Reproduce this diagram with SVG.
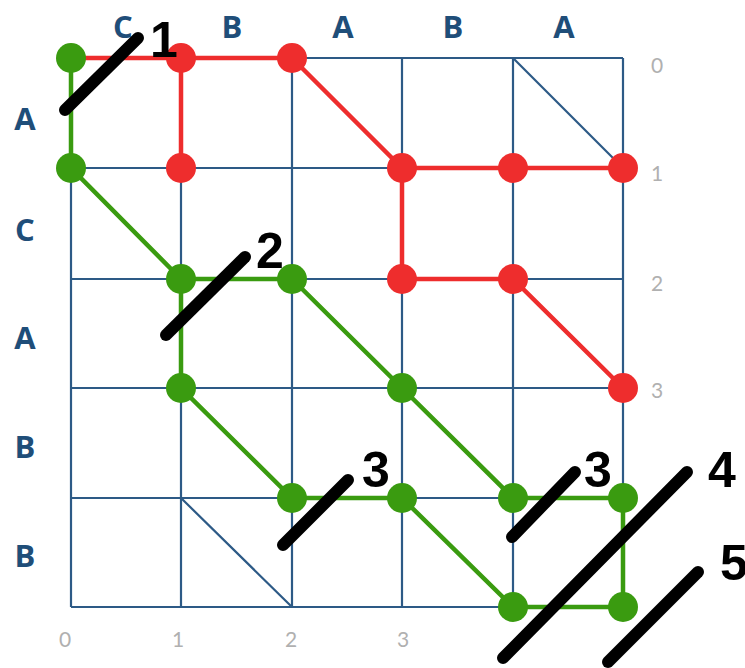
<svg xmlns="http://www.w3.org/2000/svg" width="745" height="668" viewBox="0 0 745 668">
<style>
.grid{stroke:#2d5a86;stroke-width:2.2;fill:none}
.red{stroke:#ee2d2d;stroke-width:4.5;fill:none}
.green{stroke:#3a9b10;stroke-width:4.5;fill:none}
.rn{fill:#ee2d2d}
.gn{fill:#3a9b10}
.seq{font-family:"Open Sans","Liberation Sans",sans-serif;font-weight:700;font-size:31px;fill:#1f4e79;text-anchor:middle}
.idx{font-family:"Lato","Liberation Sans",sans-serif;font-size:21px;fill:#b0b0b0;text-anchor:middle}
.mark{stroke:#000;stroke-width:12;stroke-linecap:round;fill:none}
.num{font-family:"Liberation Sans",sans-serif;font-weight:700;font-size:50px;fill:#000}
</style>
<rect width="745" height="668" fill="#fff"/>
<g id="grid">
<path class="grid" d="M71 58H623M71 168H623M71 279H623M71 388H623M71 498H623M71 607H623M71 58V607M181 58V607M292 58V607M402 58V607M513 58V607M623 58V607"/>
<path class="grid" d="M513 58L623 168M181 498L292 607"/>
</g>
<g id="labels">
<text class="seq" x="123" y="38">C</text>
<text class="seq" x="232" y="38">B</text>
<text class="seq" x="343" y="38">A</text>
<text class="seq" x="453" y="38">B</text>
<text class="seq" x="564" y="38">A</text>
<text class="seq" x="25" y="130">A</text>
<text class="seq" x="25" y="241">C</text>
<text class="seq" x="25" y="349">A</text>
<text class="seq" x="25" y="458">B</text>
<text class="seq" x="25" y="567">B</text>
<text class="idx" x="657" y="73">0</text>
<text class="idx" x="657" y="181">1</text>
<text class="idx" x="657" y="291">2</text>
<text class="idx" x="657" y="398">3</text>
<text class="idx" x="65" y="647">0</text>
<text class="idx" x="178" y="647">1</text>
<text class="idx" x="291" y="647">2</text>
<text class="idx" x="403" y="647">3</text>
</g>
<g id="connectors">
<path class="red" d="M71 58H292M181 58V168M292 58L402 168H623M402 168V279H513L623 388"/>
<path class="green" d="M71 58V168L181 279H292L402 388L513 498H623V607H513L402 498H292L181 388V279"/>
</g>
<g id="red-nodes">
<circle class="rn" cx="181" cy="58" r="15"/>
<circle class="rn" cx="292" cy="58" r="15"/>
<circle class="rn" cx="181" cy="168" r="15"/>
<circle class="rn" cx="402" cy="168" r="15"/>
<circle class="rn" cx="513" cy="168" r="15"/>
<circle class="rn" cx="623" cy="168" r="15"/>
<circle class="rn" cx="402" cy="279" r="15"/>
<circle class="rn" cx="513" cy="279" r="15"/>
<circle class="rn" cx="623" cy="388" r="15"/>
</g>
<g id="green-nodes">
<circle class="gn" cx="71" cy="58" r="15"/>
<circle class="gn" cx="71" cy="168" r="15"/>
<circle class="gn" cx="181" cy="279" r="15"/>
<circle class="gn" cx="292" cy="279" r="15"/>
<circle class="gn" cx="181" cy="388" r="15"/>
<circle class="gn" cx="402" cy="388" r="15"/>
<circle class="gn" cx="292" cy="498" r="15"/>
<circle class="gn" cx="402" cy="498" r="15"/>
<circle class="gn" cx="513" cy="498" r="15"/>
<circle class="gn" cx="623" cy="498" r="15"/>
<circle class="gn" cx="513" cy="607" r="15"/>
<circle class="gn" cx="623" cy="607" r="15"/>
</g>
<g id="marks">
<path class="mark" d="M65 110L138 38"/>
<path class="mark" d="M166 335L245 257"/>
<path class="mark" d="M283 545L348 480"/>
<path class="mark" d="M512 537L575 472"/>
<path class="mark" d="M503 658L687 472"/>
<path class="mark" d="M608 662L698 572"/>
<text class="num" x="150" y="57">1</text>
<text class="num" x="256" y="268">2</text>
<text class="num" x="362" y="487">3</text>
<text class="num" x="584" y="487">3</text>
<text class="num" x="708" y="487">4</text>
<text class="num" x="720" y="580">5</text>
</g>
</svg>
